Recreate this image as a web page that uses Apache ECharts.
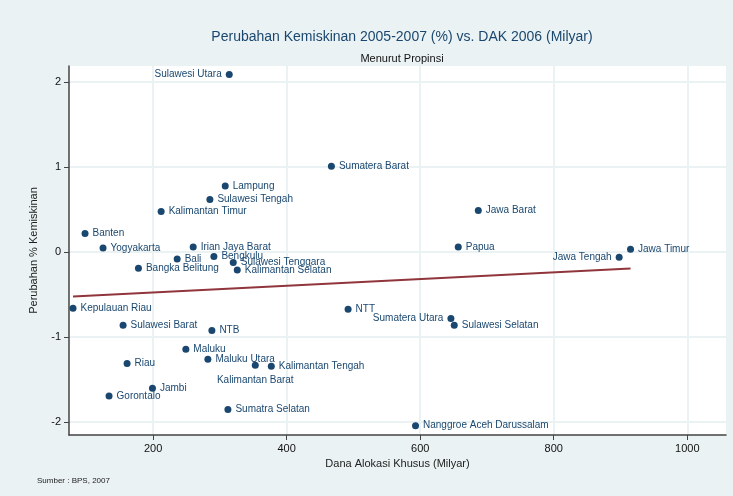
<!DOCTYPE html>
<html>
<head>
<meta charset="utf-8">
<script src="https://cdn.jsdelivr.net/npm/echarts@6/dist/echarts.min.js"></script>
<style>
  html, body { margin: 0; padding: 0; background: #eaf2f3; }
  #chart { width: 733px; height: 496px; }
</style>
</head>
<body>
<div id="chart"></div>
<script>
// data
const provinces = [
  'Sulawesi Utara', 'Sumatera Barat', 'Lampung', 'Sulawesi Tengah', 'Kalimantan Timur',
  'Jawa Barat', 'Banten', 'Yogyakarta', 'Irian Jaya Barat', 'Papua', 'Jawa Timur',
  'Jawa Tengah', 'Bengkulu', 'Bali', 'Sulawesi Tenggara', 'Bangka Belitung',
  'Kalimantan Selatan', 'Kepulauan Riau', 'Sulawesi Barat', 'NTB', 'NTT',
  'Sumatera Utara', 'Sulawesi Selatan', 'Maluku', 'Maluku Utara', 'Riau',
  'Kalimantan Barat', 'Kalimantan Tengah', 'Jambi', 'Gorontalo', 'Sumatra Selatan',
  'Nanggroe Aceh Darussalam'
];
const dak = [
  314, 467, 308, 285, 212,
  687, 98, 125, 260, 657, 915,
  898, 291, 236, 320, 178,
  326, 80, 155, 288, 492,
  646, 651, 249, 282, 161,
  353, 377, 199, 134, 312,
  593
];
const perubahan = [
  2.09, 1.01, 0.78, 0.62, 0.48,
  0.49, 0.22, 0.05, 0.06, 0.06, 0.035,
  -0.06, -0.05, -0.08, -0.12, -0.19,
  -0.21, -0.66, -0.86, -0.92, -0.67,
  -0.78, -0.86, -1.14, -1.26, -1.31,
  -1.33, -1.34, -1.60, -1.69, -1.85,
  -2.04
];
const xTicks = [200, 400, 600, 800, 1000];
const yTicks = [-2, -1, 0, 1, 2];

// where each label sits relative to its dot (default: right)
const labelSide = {
  'Sulawesi Utara': 'left',
  'Jawa Tengah': 'left',
  'Sumatera Utara': 'left',
  'Kalimantan Barat': 'bottom'
};

// least squares fit line over the data
function fitLine(xs, ys) {
  const n = xs.length;
  let sx = 0, sy = 0, sxx = 0, sxy = 0;
  for (let i = 0; i < n; i++) {
    sx += xs[i]; sy += ys[i]; sxx += xs[i] * xs[i]; sxy += xs[i] * ys[i];
  }
  const b = (n * sxy - sx * sy) / (n * sxx - sx * sx);
  const a = (sy - b * sx) / n;
  const x0 = Math.min(...xs), x1 = Math.max(...xs);
  return [[x0, a + b * x0], [x1, a + b * x1]];
}

const navy = '#1a476f';
const points = provinces.map((p, i) => {
  const side = labelSide[p] || 'right';
  return {
    name: p,
    value: [dak[i], perubahan[i]],
    label: { position: side, distance: side === 'bottom' ? 6 : 4 }
  };
});

const chart = echarts.init(document.getElementById('chart'));
chart.setOption({
  backgroundColor: '#eaf2f3',
  animation: false,
  textStyle: { fontFamily: 'Liberation Sans, Arial, sans-serif' },
  title: [
    {
      text: 'Perubahan Kemiskinan 2005-2007 (%) vs. DAK 2006 (Milyar)',
      left: 397, top: 25, textAlign: 'center',
      textStyle: { color: '#1a476f', fontSize: 14, fontWeight: 'normal' }
    },
    {
      text: 'Menurut Propinsi',
      left: 397, top: 48, textAlign: 'center',
      textStyle: { color: '#111', fontSize: 11, fontWeight: 'normal' }
    },
    {
      text: 'Sumber : BPS, 2007',
      left: 32, top: 472,
      textStyle: { color: '#222', fontSize: 8, fontWeight: 'normal' }
    }
  ],
  grid: { left: 69, right: 7, top: 66, bottom: 61, show: true, backgroundColor: '#fff', borderWidth: 0 },
  xAxis: {
    type: 'value', min: 74, max: 1058,
    name: 'Dana Alokasi Khusus (Milyar)', nameLocation: 'middle', nameGap: 22,
    nameTextStyle: { color: '#222', fontSize: 11 },
    axisLine: { onZero: false, lineStyle: { color: '#444', width: 1.5 } },
    axisTick: { customValues: xTicks, length: 5, lineStyle: { color: '#444' } },
    axisLabel: { customValues: xTicks, color: '#111', fontSize: 11, margin: 8, formatter: v => String(v) },
    splitLine: { show: true, lineStyle: { color: '#eaf2f3', width: 2 } }
  },
  yAxis: {
    type: 'value', min: -2.15, max: 2.19,
    name: 'Perubahan % Kemiskinan', nameLocation: 'middle', nameGap: 30,
    nameTextStyle: { color: '#222', fontSize: 11 },
    axisLine: { show: true, onZero: false, lineStyle: { color: '#444', width: 1.5 } },
    axisTick: { show: true, customValues: yTicks, length: 5, lineStyle: { color: '#444' } },
    axisLabel: { customValues: yTicks, color: '#111', fontSize: 11, margin: 8 },
    splitLine: { show: true, lineStyle: { color: '#eaf2f3', width: 2 } }
  },
  series: [
    {
      type: 'line',
      data: fitLine(dak, perubahan),
      symbol: 'none',
      lineStyle: { color: '#90353b', width: 2 },
      z: 2
    },
    {
      type: 'scatter',
      data: points,
      symbol: 'circle',
      symbolSize: 7,
      itemStyle: { color: navy, opacity: 1 },
      label: { show: true, formatter: '{b}', color: navy, fontSize: 10 },
      z: 3
    }
  ]
});
</script>
</body>
</html>
